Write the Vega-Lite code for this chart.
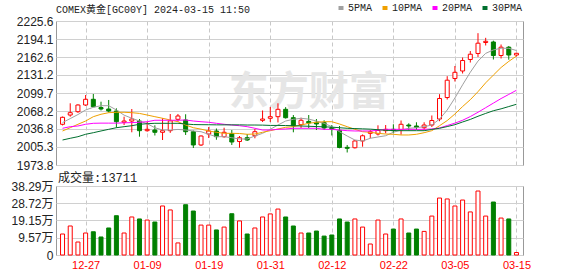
{
  "$schema": "https://vega.github.io/schema/vega-lite/v6.json",
  "background": "white",
  "padding": {"left": 5, "top": 3, "right": 0, "bottom": 0},
  "spacing": -1,
  "config": {
    "view": {"stroke": "#999999"},
    "axis": {"labelFont": "Liberation Sans, Noto Sans CJK SC", "labelFontSize": 12, "labelColor": "#222222", "ticks": false, "domain": false, "title": null, "labelOverlap": false}
  },
  "data": {"values": [
    {"d":"2023-12-21","o":2045.0,"h":2058.5,"l":2043.0,"c":2057.2,"v":11.65,"m5":2048.0,"m10":2033.3,"m20":2038.0,"m30":2017.5},
    {"d":"2023-12-22","o":2061.2,"h":2081.7,"l":2058.3,"c":2065.3,"v":16.1,"m5":2055.0,"m10":2039.0,"m20":2040.8,"m30":2020.5},
    {"d":"2023-12-26","o":2067.0,"h":2080.0,"l":2065.0,"c":2078.7,"v":7.2,"m5":2062.0,"m10":2045.0,"m20":2042.0,"m30":2023.3},
    {"d":"2023-12-27","o":2078.7,"h":2096.2,"l":2077.0,"c":2088.7,"v":12.2,"m5":2070.0,"m10":2050.7,"m20":2045.0,"m30":2027.5},
    {"d":"2023-12-28","o":2088.7,"h":2098.0,"l":2075.0,"c":2075.7,"v":12.9,"m5":2074.7,"m10":2058.3,"m20":2046.7,"m30":2030.3},
    {"d":"2023-12-29","o":2074.3,"h":2084.5,"l":2069.1,"c":2071.7,"v":10.0,"m5":2077.5,"m10":2062.5,"m20":2047.0,"m30":2033.3},
    {"d":"2024-01-02","o":2071.7,"h":2087.5,"l":2065.6,"c":2068.2,"v":15.0,"m5":2077.5,"m10":2065.3,"m20":2047.0,"m30":2036.2},
    {"d":"2024-01-03","o":2068.2,"h":2072.9,"l":2039.0,"c":2049.5,"v":21.8,"m5":2070.0,"m10":2066.0,"m20":2047.0,"m30":2039.0},
    {"d":"2024-01-04","o":2048.5,"h":2058.3,"l":2043.7,"c":2050.7,"v":12.2,"m5":2061.0,"m10":2066.0,"m20":2047.5,"m30":2040.8},
    {"d":"2024-01-05","o":2050.7,"h":2071.7,"l":2031.0,"c":2054.2,"v":21.1,"m5":2055.5,"m10":2065.3,"m20":2048.0,"m30":2042.5},
    {"d":"2024-01-08","o":2050.7,"h":2054.2,"l":2023.3,"c":2033.8,"v":20.0,"m5":2050.7,"m10":2064.0,"m20":2048.5,"m30":2045.0},
    {"d":"2024-01-09","o":2033.8,"h":2049.0,"l":2032.0,"c":2036.2,"v":19.4,"m5":2046.0,"m10":2061.2,"m20":2049.5,"m30":2046.0},
    {"d":"2024-01-10","o":2035.0,"h":2043.2,"l":2025.4,"c":2031.0,"v":18.3,"m5":2039.0,"m10":2058.3,"m20":2052.0,"m30":2046.7},
    {"d":"2024-01-11","o":2031.0,"h":2055.5,"l":2017.5,"c":2033.8,"v":27.2,"m5":2035.0,"m10":2055.5,"m20":2052.0,"m30":2046.7},
    {"d":"2024-01-12","o":2033.8,"h":2063.0,"l":2030.0,"c":2051.0,"v":25.0,"m5":2035.0,"m10":2052.5,"m20":2052.0,"m30":2046.7},
    {"d":"2024-01-15","o":2053.7,"h":2063.0,"l":2049.5,"c":2059.5,"v":6.7,"m5":2036.0,"m10":2049.5,"m20":2052.0,"m30":2046.7},
    {"d":"2024-01-16","o":2052.5,"h":2062.5,"l":2026.3,"c":2032.0,"v":27.9,"m5":2035.0,"m10":2043.7,"m20":2052.5,"m30":2045.5},
    {"d":"2024-01-17","o":2032.0,"h":2034.1,"l":2003.5,"c":2008.8,"v":24.4,"m5":2033.3,"m10":2039.0,"m20":2050.7,"m30":2044.5},
    {"d":"2024-01-18","o":2008.8,"h":2025.5,"l":2007.0,"c":2024.5,"v":16.6,"m5":2032.0,"m10":2036.5,"m20":2049.5,"m30":2044.3},
    {"d":"2024-01-19","o":2028.0,"h":2040.3,"l":2021.0,"c":2033.3,"v":16.6,"m5":2027.5,"m10":2033.3,"m20":2048.5,"m30":2044.2},
    {"d":"2024-01-22","o":2033.3,"h":2037.6,"l":2018.0,"c":2023.3,"v":13.9,"m5":2023.3,"m10":2031.0,"m20":2046.7,"m30":2044.0},
    {"d":"2024-01-23","o":2023.3,"h":2039.0,"l":2021.5,"c":2031.0,"v":15.5,"m5":2023.3,"m10":2029.2,"m20":2045.0,"m30":2044.0},
    {"d":"2024-01-24","o":2028.9,"h":2035.0,"l":2008.8,"c":2014.0,"v":22.9,"m5":2021.5,"m10":2029.2,"m20":2043.7,"m30":2044.0},
    {"d":"2024-01-25","o":2014.9,"h":2024.5,"l":2004.0,"c":2021.5,"v":18.9,"m5":2019.3,"m10":2028.9,"m20":2042.5,"m30":2044.0},
    {"d":"2024-01-26","o":2021.5,"h":2028.0,"l":2015.8,"c":2017.5,"v":11.65,"m5":2019.3,"m10":2027.5,"m20":2040.8,"m30":2043.7},
    {"d":"2024-01-29","o":2025.0,"h":2036.8,"l":2020.5,"c":2032.0,"v":15.0,"m5":2024.5,"m10":2028.0,"m20":2038.0,"m30":2043.7},
    {"d":"2024-01-30","o":2051.9,"h":2069.1,"l":2049.0,"c":2054.2,"v":21.1,"m5":2029.2,"m10":2031.0,"m20":2035.0,"m30":2043.5},
    {"d":"2024-01-31","o":2055.5,"h":2075.2,"l":2049.0,"c":2058.3,"v":22.8,"m5":2036.2,"m10":2033.8,"m20":2035.0,"m30":2043.0},
    {"d":"2024-02-01","o":2058.3,"h":2081.7,"l":2048.2,"c":2071.2,"v":25.5,"m5":2043.7,"m10":2036.8,"m20":2036.2,"m30":2043.0},
    {"d":"2024-02-02","o":2071.2,"h":2075.0,"l":2055.0,"c":2056.5,"v":21.1,"m5":2050.7,"m10":2039.7,"m20":2036.8,"m30":2042.8},
    {"d":"2024-02-05","o":2056.5,"h":2061.2,"l":2031.0,"c":2042.5,"v":16.1,"m5":2053.7,"m10":2040.8,"m20":2038.0,"m30":2042.5},
    {"d":"2024-02-06","o":2044.3,"h":2056.5,"l":2038.5,"c":2052.0,"v":12.2,"m5":2055.5,"m10":2043.7,"m20":2038.0,"m30":2042.0},
    {"d":"2024-02-07","o":2050.0,"h":2061.2,"l":2038.0,"c":2047.3,"v":12.2,"m5":2054.0,"m10":2046.7,"m20":2038.0,"m30":2041.5},
    {"d":"2024-02-08","o":2048.5,"h":2054.2,"l":2035.0,"c":2045.5,"v":13.3,"m5":2050.7,"m10":2048.5,"m20":2038.0,"m30":2041.0},
    {"d":"2024-02-09","o":2047.9,"h":2052.0,"l":2035.0,"c":2038.5,"v":10.5,"m5":2046.7,"m10":2049.5,"m20":2036.2,"m30":2040.5},
    {"d":"2024-02-12","o":2039.0,"h":2043.7,"l":2025.4,"c":2036.8,"v":11.1,"m5":2040.8,"m10":2049.5,"m20":2036.2,"m30":2040.0},
    {"d":"2024-02-13","o":2034.5,"h":2042.0,"l":2003.0,"c":2004.4,"v":20.0,"m5":2032.0,"m10":2045.5,"m20":2035.0,"m30":2039.0},
    {"d":"2024-02-14","o":2004.7,"h":2008.8,"l":1995.7,"c":2003.0,"v":18.3,"m5":2024.5,"m10":2040.8,"m20":2033.8,"m30":2038.0},
    {"d":"2024-02-15","o":2004.0,"h":2017.5,"l":2002.6,"c":2015.8,"v":20.0,"m5":2017.5,"m10":2036.2,"m20":2033.3,"m30":2037.5},
    {"d":"2024-02-16","o":2015.8,"h":2027.2,"l":2005.8,"c":2024.9,"v":15.5,"m5":2015.8,"m10":2032.0,"m20":2033.3,"m30":2037.0},
    {"d":"2024-02-19","o":2029.2,"h":2035.0,"l":2020.5,"c":2032.0,"v":6.1,"m5":2020.5,"m10":2031.0,"m20":2033.3,"m30":2036.5},
    {"d":"2024-02-20","o":2028.0,"h":2043.2,"l":2025.4,"c":2034.1,"v":19.4,"m5":2022.8,"m10":2029.2,"m20":2034.5,"m30":2035.5},
    {"d":"2024-02-21","o":2033.8,"h":2043.7,"l":2029.2,"c":2036.2,"v":11.65,"m5":2025.0,"m10":2028.0,"m20":2036.2,"m30":2034.5},
    {"d":"2024-02-22","o":2036.2,"h":2045.0,"l":2029.2,"c":2033.8,"v":14.4,"m5":2031.0,"m10":2027.5,"m20":2036.2,"m30":2034.0},
    {"d":"2024-02-23","o":2035.5,"h":2051.6,"l":2026.8,"c":2045.0,"v":20.0,"m5":2035.0,"m10":2026.3,"m20":2036.2,"m30":2033.8},
    {"d":"2024-02-26","o":2043.7,"h":2046.7,"l":2033.8,"c":2042.0,"v":12.2,"m5":2038.0,"m10":2026.3,"m20":2036.2,"m30":2033.8},
    {"d":"2024-02-27","o":2042.0,"h":2048.5,"l":2035.0,"c":2039.7,"v":14.4,"m5":2039.0,"m10":2027.5,"m20":2036.2,"m30":2033.8},
    {"d":"2024-02-28","o":2039.0,"h":2048.5,"l":2035.0,"c":2043.7,"v":13.1,"m5":2040.8,"m10":2030.3,"m20":2036.2,"m30":2033.8},
    {"d":"2024-02-29","o":2043.7,"h":2060.4,"l":2040.3,"c":2051.6,"v":21.6,"m5":2043.7,"m10":2033.8,"m20":2036.8,"m30":2036.0},
    {"d":"2024-03-01","o":2054.2,"h":2097.6,"l":2050.4,"c":2090.1,"v":31.6,"m5":2054.0,"m10":2042.5,"m20":2038.5,"m30":2038.0},
    {"d":"2024-03-04","o":2091.8,"h":2129.1,"l":2088.3,"c":2122.1,"v":31.1,"m5":2070.0,"m10":2051.5,"m20":2042.8,"m30":2041.0},
    {"d":"2024-03-05","o":2125.1,"h":2146.9,"l":2119.8,"c":2135.9,"v":27.2,"m5":2091.0,"m10":2063.0,"m20":2047.0,"m30":2044.3},
    {"d":"2024-03-06","o":2138.2,"h":2161.8,"l":2133.8,"c":2156.5,"v":30.5,"m5":2114.0,"m10":2076.0,"m20":2052.0,"m30":2049.0},
    {"d":"2024-03-07","o":2158.3,"h":2173.1,"l":2153.0,"c":2167.5,"v":23.9,"m5":2136.0,"m10":2088.0,"m20":2058.5,"m30":2053.5},
    {"d":"2024-03-08","o":2168.8,"h":2204.3,"l":2162.7,"c":2186.8,"v":35.5,"m5":2155.5,"m10":2102.0,"m20":2066.0,"m30":2059.0},
    {"d":"2024-03-11","o":2188.0,"h":2196.2,"l":2182.8,"c":2190.1,"v":21.6,"m5":2169.0,"m10":2117.5,"m20":2074.0,"m30":2064.0},
    {"d":"2024-03-12","o":2188.9,"h":2191.2,"l":2158.3,"c":2165.3,"v":29.4,"m5":2175.0,"m10":2131.0,"m20":2082.0,"m30":2068.7},
    {"d":"2024-03-13","o":2165.3,"h":2184.5,"l":2160.0,"c":2179.8,"v":20.5,"m5":2178.0,"m10":2144.3,"m20":2090.0,"m30":2072.0},
    {"d":"2024-03-14","o":2179.8,"h":2181.9,"l":2157.9,"c":2166.1,"v":20.0,"m5":2177.8,"m10":2155.0,"m20":2097.2,"m30":2076.0},
    {"d":"2024-03-15","o":2166.1,"h":2169.5,"l":2163.5,"c":2169.1,"v":1.3711,"m5":2174.0,"m10":2164.3,"m20":2104.5,"m30":2080.0}
  ]},
  "vconcat": [
    {
      "width": 467,
      "height": 144,
      "title": {"text": "COMEX黄金[GC00Y] 2024-03-15 11:50", "anchor": "start", "frame": "group", "font": "Liberation Mono, Noto Sans CJK SC", "fontSize": 10, "fontWeight": "normal", "color": "#222222", "offset": 0},
      "encoding": {
        "x": {"field": "d", "type": "ordinal", "scale": {"type": "point", "padding": 0.85},
              "axis": {"values": ["2023-12-27","2024-01-09","2024-01-19","2024-01-31","2024-02-12","2024-02-22","2024-03-05","2024-03-15"],
                       "labels": false, "grid": true, "gridDash": [4, 3], "gridColor": "#c8c8c8", "minExtent": 0, "maxExtent": 0}}
      },
      "layer": [
        {
          "data": {"values": [{}]},
          "mark": {"type": "text", "text": "东方财富", "font": "Noto Sans CJK SC", "fontSize": 40, "fontWeight": "bold", "color": "#e6e6e6", "align": "center", "baseline": "middle"},
          "encoding": {
            "x": {"datum": "2024-02-07", "type": "ordinal"},
            "y": {"datum": 2099, "type": "quantitative",
                  "scale": {"domain": [1973.8, 2225.6], "nice": false, "zero": false},
                  "axis": {"values": [1973.8, 2005.3, 2036.8, 2068.2, 2099.7, 2131.2, 2162.6, 2194.1, 2225.6], "format": ".1f", "grid": true, "gridColor": "#d0d0d0", "labelPadding": 3, "minExtent": 50, "maxExtent": 50, "labelOverlap": false}}
          }
        },
        {
          "mark": {"type": "rule", "strokeWidth": 1},
          "encoding": {
            "y": {"field": "l", "type": "quantitative",
                  "axis": {"values": [1973.8, 2005.3, 2036.8, 2068.2, 2099.7, 2131.2, 2162.6, 2194.1, 2225.6], "format": ".1f", "grid": true, "gridColor": "#d0d0d0", "labelPadding": 3, "minExtent": 50, "maxExtent": 50, "labelOverlap": false}},
            "y2": {"field": "h"},
            "color": {"condition": {"test": "datum.c >= datum.o", "value": "#ff0000"}, "value": "#008000"}
          }
        },
        {
          "mark": {"type": "bar", "size": 4, "strokeWidth": 1},
          "encoding": {
            "y": {"field": "o", "type": "quantitative",
                  "axis": {"values": [1973.8, 2005.3, 2036.8, 2068.2, 2099.7, 2131.2, 2162.6, 2194.1, 2225.6], "format": ".1f", "grid": true, "gridColor": "#d0d0d0", "labelPadding": 3, "minExtent": 50, "maxExtent": 50, "labelOverlap": false}},
            "y2": {"field": "c"},
            "fill": {"condition": {"test": "datum.c >= datum.o", "value": "#ffffff"}, "value": "#008000"},
            "stroke": {"condition": {"test": "datum.c >= datum.o", "value": "#ff0000"}, "value": "#008000"}
          }
        },
        {
          "transform": [{"fold": ["m5", "m10", "m20", "m30"], "as": ["k", "mv"]}],
          "mark": {"type": "line", "strokeWidth": 1},
          "encoding": {
            "y": {"field": "mv", "type": "quantitative",
                  "axis": {"values": [1973.8, 2005.3, 2036.8, 2068.2, 2099.7, 2131.2, 2162.6, 2194.1, 2225.6], "format": ".1f", "grid": true, "gridColor": "#d0d0d0", "labelPadding": 3, "minExtent": 50, "maxExtent": 50, "labelOverlap": false}},
            "color": {"field": "k", "type": "nominal",
                      "scale": {"domain": ["m5", "m10", "m20", "m30"], "range": ["#a0a0a0", "#f0a000", "#ff00ff", "#006f2e"]},
                      "legend": {"orient": "none", "legendX": 280, "legendY": -18, "direction": "horizontal", "title": null,
                                 "labelExpr": "{'m5':'5PMA','m10':'10PMA','m20':'20PMA','m30':'30PMA'}[datum.label]",
                                 "symbolType": "stroke", "symbolStrokeWidth": 4, "symbolSize": 25,
                                 "labelFont": "Liberation Mono", "labelFontSize": 10, "labelColor": "#222222", "columnPadding": 1, "labelOffset": 2}}
          }
        }
      ]
    },
    {
      "width": 467,
      "height": 69,
      "title": {"text": "成交量:13711", "anchor": "start", "frame": "group", "font": "Liberation Mono, Noto Sans CJK SC", "fontSize": 12, "fontWeight": "normal", "color": "#222222", "offset": -5, "dx": 2},
      "mark": {"type": "bar", "size": 4, "strokeWidth": 1},
      "encoding": {
        "x": {"field": "d", "type": "ordinal", "scale": {"type": "point", "padding": 0.85},
              "axis": {"values": ["2023-12-27","2024-01-09","2024-01-19","2024-01-31","2024-02-12","2024-02-22","2024-03-05","2024-03-15"],
                       "labelExpr": "substring(datum.label, 5)", "labelColor": "#ff0000", "labelFontSize": 11, "labelPadding": 4,
                       "labelAngle": 0, "grid": true, "gridDash": [4, 3], "gridColor": "#c8c8c8"}},
        "y": {"field": "v", "type": "quantitative", "scale": {"domain": [0, 38.29], "nice": false},
              "axis": {"values": [0, 9.57, 19.15, 28.72, 38.29], "labelExpr": "datum.value == 0 ? '0' : format(datum.value, '.2f') + '万'", "grid": true, "gridColor": "#d0d0d0", "labelPadding": 3, "minExtent": 50, "maxExtent": 50, "labelOverlap": false}},
        "fill": {"condition": {"test": "datum.c >= datum.o", "value": "#ffffff"}, "value": "#008000"},
        "stroke": {"condition": {"test": "datum.c >= datum.o", "value": "#ff0000"}, "value": "#008000"}
      }
    }
  ]
}
